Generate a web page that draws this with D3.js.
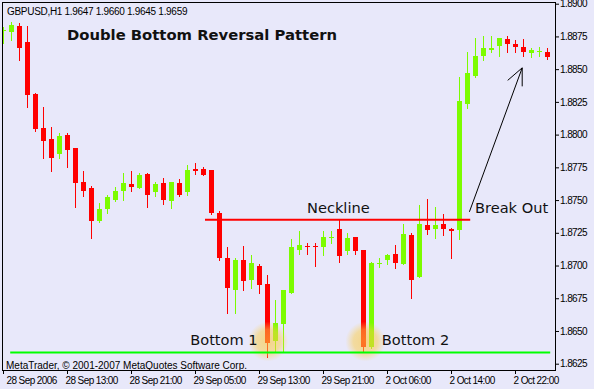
<!DOCTYPE html>
<meta charset="utf-8">
<script src="https://d3js.org/d3.v7.min.js"></script>
<style>
  body { margin: 0; background: #e8e8fa; }
  text { font-family: "Liberation Sans", Arial, sans-serif; }
</style>
<div id="chart"></div>
<script>

// GBPUSD H1 candles, left to right
var opens  = [1.8879,1.8878,1.8883,1.8871,1.8831,1.8805,1.8797,1.8785,1.8800,1.8790,
              1.8764,1.8759,1.8734,1.8743,1.8750,1.8757,1.8762,1.8759,1.8770,1.8756,
              1.8763,1.8749,1.8763,1.8756,1.8774,1.8774,1.8773,1.8740,1.8706,1.8681,
              1.8704,1.8689,1.8700,1.8686,1.8642,1.8655,1.8679,1.8712,1.8715,1.8715,
              1.8714,1.8721,1.8728,1.8711,1.8722,1.8712,1.8638,1.8701,1.8704,1.8709,
              1.8701,1.8723,1.8691,1.8731,1.8728,1.8732,1.8728,1.8727,1.8823,1.8845,
              1.8860,1.8865,1.8868,1.8873,1.8869,1.8867,1.8862,1.8863,1.8863];
var highs  = [1.8882,1.8886,1.8885,1.8883,1.8832,1.8821,1.8806,1.8801,1.8801,1.8790,
              1.8772,1.8761,1.8748,1.8754,1.8760,1.8771,1.8772,1.8771,1.8771,1.8764,
              1.8767,1.8764,1.8766,1.8777,1.8778,1.8775,1.8773,1.8742,1.8714,1.8706,
              1.8715,1.8708,1.8701,1.8693,1.8674,1.8681,1.8720,1.8726,1.8717,1.8717,
              1.8726,1.8726,1.8735,1.8725,1.8722,1.8712,1.8703,1.8706,1.8709,1.8716,
              1.8732,1.8725,1.8746,1.8751,1.8745,1.8739,1.8729,1.8844,1.8863,1.8874,
              1.8875,1.8875,1.8874,1.8875,1.8872,1.8873,1.8866,1.8867,1.8866];
var lows   = [1.8870,1.8872,1.8857,1.8821,1.8803,1.8782,1.8772,1.8782,1.8775,1.8745,
              1.8753,1.8721,1.8733,1.8740,1.8749,1.8750,1.8757,1.8759,1.8745,1.8753,
              1.8747,1.8744,1.8753,1.8754,1.8770,1.8769,1.8739,1.8704,1.8664,1.8664,
              1.8681,1.8683,1.8679,1.8630,1.8634,1.8634,1.8679,1.8709,1.8709,1.8700,
              1.8708,1.8717,1.8703,1.8709,1.8709,1.8634,1.8637,1.8699,1.8701,1.8698,
              1.8701,1.8675,1.8691,1.8724,1.8721,1.8723,1.8706,1.8720,1.8820,1.8844,
              1.8857,1.8863,1.8860,1.8863,1.8863,1.8860,1.8859,1.8860,1.8858];
var closes = [1.8880,1.8884,1.8866,1.8830,1.8804,1.8795,1.8782,1.8799,1.8788,1.8763,
              1.8757,1.8734,1.8743,1.8752,1.8757,1.8763,1.8760,1.8769,1.8754,1.8762,
              1.8750,1.8764,1.8754,1.8773,1.8772,1.8769,1.8740,1.8706,1.8683,1.8704,
              1.8688,1.8702,1.8685,1.8641,1.8656,1.8681,1.8714,1.8716,1.8714,1.8714,
              1.8722,1.8722,1.8707,1.8721,1.8711,1.8638,1.8702,1.8702,1.8708,1.8702,
              1.8724,1.8689,1.8732,1.8727,1.8731,1.8728,1.8726,1.8826,1.8847,1.8860,
              1.8866,1.8866,1.8874,1.8869,1.8867,1.8863,1.8865,1.8864,1.8859];

var yTicks = [1.8625,1.8650,1.8675,1.8700,1.8725,1.8750,1.8775,1.8800,1.8825,1.8850,1.8875,1.8900];
var xTickIndex  = [0, 8, 16, 24, 32, 40, 48, 56, 64];
var xTickLabels = ["28 Sep 2006","28 Sep 13:00","28 Sep 21:00","29 Sep 05:00","29 Sep 13:00",
                   "29 Sep 21:00","2 Oct 06:00","2 Oct 14:00","2 Oct 22:00"];

// annotations, in (bar index, price)
var neckline = {price: 1.8735, from: 25.25, to: 58.4};
var support  = {price: 1.86335, from: 0.9, to: 68.4};
var bottomMarks = [
  {label: "Bottom 1", index: 33.15, price: 1.8642, textAt: 23.4},
  {label: "Bottom 2", index: 45.3, price: 1.8642, textAt: 47.35}
];
var breakOut = {from: [58.3, 1.8741], to: [64.9, 1.8851], textAt: 59.0};

var width = 594, height = 389;
var plot = {left: 2.5, top: 2.5, right: 555.5, bottom: 370.5};

var svg = d3.select("#chart")
  .append("svg")
    .attr("width", width)
    .attr("height", height);

svg.append("rect")
  .attr("width", width)
  .attr("height", height)
  .attr("fill", "#e8e8fa");

var x = d3.scaleLinear().domain([0, 68]).range([3, 547]);
var y = d3.scaleLinear().domain([1.8625, 1.8900]).range([363.7, 3.7]);

var defs = svg.append("defs");
defs.append("clipPath").attr("id", "clip")
  .append("rect")
    .attr("x", 3).attr("y", 3)
    .attr("width", 552).attr("height", 367);

var glow = defs.append("radialGradient").attr("id", "glow");
glow.append("stop").attr("offset", "0%").attr("stop-color", "rgb(252,200,60)").attr("stop-opacity", 0.6);
glow.append("stop").attr("offset", "60%").attr("stop-color", "rgb(252,205,70)").attr("stop-opacity", 0.5);
glow.append("stop").attr("offset", "100%").attr("stop-color", "rgb(252,210,90)").attr("stop-opacity", 0);

var candles = d3.range(opens.length).map(function(i) {
  return {i: i, o: opens[i], h: highs[i], l: lows[i], c: closes[i]};
});

var g = svg.append("g").attr("clip-path", "url(#clip)");

var colorOf = function(d) { return d.c >= d.o ? "#7cfc00" : "#ff0000"; };

// wicks
g.selectAll(".wick")
  .data(candles)
  .enter()
  .append("line")
    .attr("class", "wick")
    .attr("x1", function(d) { return Math.round(x(d.i)) + 0.5; })
    .attr("x2", function(d) { return Math.round(x(d.i)) + 0.5; })
    .attr("y1", function(d) { return Math.round(y(d.h)); })
    .attr("y2", function(d) { return Math.round(y(d.l)) + 1; })
    .attr("stroke", colorOf)
    .attr("stroke-width", 1);

// bodies
g.selectAll(".body")
  .data(candles)
  .enter()
  .append("rect")
    .attr("class", "body")
    .attr("x", function(d) { return Math.round(x(d.i)) - 2; })
    .attr("width", 5)
    .attr("y", function(d) { return Math.round(y(Math.max(d.o, d.c))); })
    .attr("height", function(d) {
      return Math.max(1, Math.round(y(Math.min(d.o, d.c))) - Math.round(y(Math.max(d.o, d.c))));
    })
    .attr("fill", colorOf);

// highlighted bottoms
g.selectAll(".glow")
  .data(bottomMarks)
  .enter()
  .append("circle")
    .attr("cx", function(d) { return x(d.index); })
    .attr("cy", function(d) { return y(d.price); })
    .attr("r", 20)
    .attr("fill", "url(#glow)");

// support line
g.append("line")
  .attr("x1", x(support.from)).attr("x2", x(support.to))
  .attr("y1", y(support.price)).attr("y2", y(support.price))
  .attr("stroke", "#00ff00")
  .attr("stroke-width", 2);

// neckline
g.append("line")
  .attr("x1", x(neckline.from)).attr("x2", x(neckline.to))
  .attr("y1", y(neckline.price)).attr("y2", y(neckline.price))
  .attr("stroke", "#ff0000")
  .attr("stroke-width", 2);

// break out arrow
var tip = [x(breakOut.to[0]), y(breakOut.to[1])];
g.append("line")
  .attr("x1", x(breakOut.from[0])).attr("y1", y(breakOut.from[1]))
  .attr("x2", tip[0]).attr("y2", tip[1])
  .attr("stroke", "#000")
  .attr("stroke-width", 1);
g.append("path")
  .attr("d", "M" + (tip[0] - 14.5) + "," + (tip[1] + 12.5) + "L" + tip[0] + "," + tip[1] + "L" + tip[0] + "," + (tip[1] + 18.5))
  .attr("fill", "none")
  .attr("stroke", "#000")
  .attr("stroke-width", 1);

// frame
svg.append("rect")
  .attr("x", plot.left).attr("y", plot.top)
  .attr("width", plot.right - plot.left)
  .attr("height", plot.bottom - plot.top)
  .attr("fill", "none")
  .attr("stroke", "#000")
  .attr("stroke-width", 1);

// Y axis on the right
var yAxis = svg.append("g")
  .attr("transform", "translate(555,0)")
  .call(d3.axisRight(y).tickValues(yTicks).tickSize(4).tickPadding(1).tickFormat(d3.format(".4f")));
yAxis.select(".domain").remove();
yAxis.selectAll("text")
  .style("font-family", "'Liberation Sans', Arial, sans-serif")
  .style("font-size", "10px")
  .style("letter-spacing", "-0.6px")
  .attr("fill", "#000");

// X axis
var xAxis = svg.append("g")
  .attr("transform", "translate(0,370)")
  .call(d3.axisBottom(x).tickValues(xTickIndex).tickSize(4).tickPadding(3)
    .tickFormat(function(d, i) { return xTickLabels[i]; }));
xAxis.select(".domain").remove();
xAxis.selectAll("text")
  .attr("text-anchor", "start")
  .attr("x", function(d, i) { return i === 0 ? 3 : -2; })
  .style("font-family", "'Liberation Sans', Arial, sans-serif")
  .style("font-size", "10px")
  .style("letter-spacing", "-0.6px")
  .attr("fill", "#000");

// header and credits
svg.append("text")
  .attr("x", 7).attr("y", 15)
  .style("font-size", "10px")
  .style("letter-spacing", "-0.3px")
  .text("GBPUSD,H1  1.9647 1.9660 1.9645 1.9659");

svg.append("text")
  .attr("x", 6).attr("y", 369)
  .style("font-size", "10px")
  .text("MetaTrader, \u00a9 2001-2007 MetaQuotes Software Corp.");

// title
svg.append("text")
  .attr("x", 67).attr("y", 40)
  .style("font-family", "'DejaVu Sans', Verdana, sans-serif")
  .style("font-weight", "bold")
  .style("font-size", "14.8px")
  .attr("fill", "#111")
  .text("Double Bottom Reversal Pattern");

// annotation labels
var labelStyle = function(sel) {
  sel.style("font-family", "'DejaVu Sans', Verdana, sans-serif")
    .style("font-size", "14.6px")
    .attr("fill", "#111");
};

svg.append("text")
  .attr("x", x(38)).attr("y", y(neckline.price) - 6.4)
  .call(labelStyle)
  .text("Neckline");

svg.append("text")
  .attr("x", x(breakOut.textAt)).attr("y", y(neckline.price) - 6.4)
  .call(labelStyle)
  .text("Break Out");

svg.selectAll(".bottomLabel")
  .data(bottomMarks)
  .enter()
  .append("text")
    .attr("x", function(d) { return x(d.textAt); })
    .attr("y", y(support.price) - 7.7)
    .call(labelStyle)
    .text(function(d) { return d.label; });

</script>
